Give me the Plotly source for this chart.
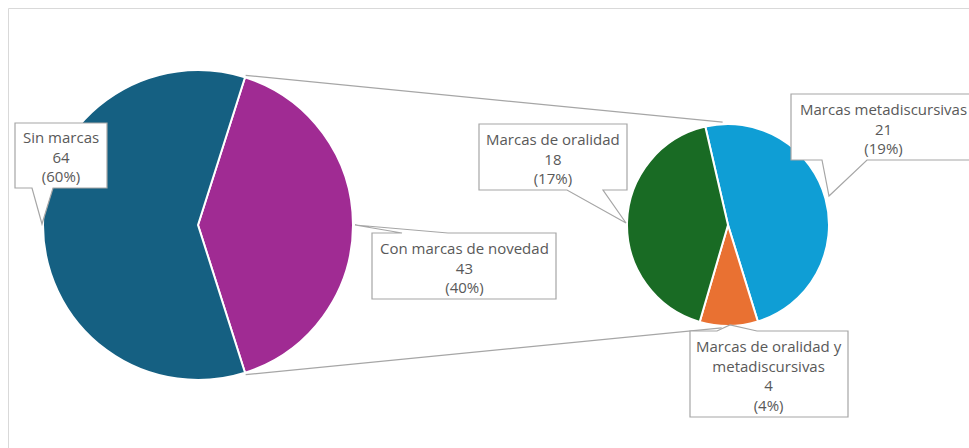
import math
import plotly.graph_objects as go

W, H = 969, 448

# ---- data ----
main_labels = ["Con marcas de novedad", "Sin marcas"]
main_values = [43, 64]
main_pct = ["40%", "60%"]
main_colors = ["#A02B93", "#156082"]

sub_labels = ["Marcas metadiscursivas", "Marcas de oralidad y<br>metadiscursivas", "Marcas de oralidad"]
sub_values = [21, 4, 18]
sub_pct = ["19%", "4%", "17%"]
sub_colors = ["#0F9ED5", "#E97132", "#196B24"]

def px(x):
    return x / W

def py(y):
    return 1 - y / H

# geometry (pixels)
MCX, MCY, MR = 198, 225, 155
SCX, SCY, SR = 728, 225, 101
half = 360 * main_values[0] / sum(main_values) / 2
main_rot = 90 - half          # centre the "other" slice on the right
sub_rot = -13

fig = go.Figure()
fig.add_trace(go.Pie(
    labels=main_labels, values=main_values, sort=False, direction="clockwise",
    rotation=main_rot, textinfo="none", hoverinfo="label+value+percent",
    marker=dict(colors=main_colors, line=dict(color="white", width=2)),
    domain=dict(x=[px(MCX - MR), px(MCX + MR)], y=[py(MCY + MR), py(MCY - MR)]),
    showlegend=False,
))
fig.add_trace(go.Pie(
    labels=sub_labels, values=sub_values, sort=False, direction="clockwise",
    rotation=sub_rot, textinfo="none", hoverinfo="label+value",
    marker=dict(colors=sub_colors, line=dict(color="white", width=2)),
    domain=dict(x=[px(SCX - SR), px(SCX + SR)], y=[py(SCY + SR), py(SCY - SR)]),
    showlegend=False,
))

shapes = []
# chart area border
shapes.append(dict(type="rect", xref="paper", yref="paper",
                   x0=px(8.5), y0=py(460), x1=px(980), y1=py(8.5),
                   line=dict(color="#D9D9D9", width=1), fillcolor="rgba(0,0,0,0)", layer="below"))

# connector lines between pies
def pt(cx, cy, r, deg):
    a = math.radians(deg)
    return cx + r * math.sin(a), cy - r * math.cos(a)

a_top = main_rot
a_bot = 180 - main_rot
for am, as_ in [(a_top, -3), (a_bot, 183.5)]:
    x0, y0 = pt(MCX, MCY, MR + 2, am)
    x1, y1 = pt(SCX, SCY, SR + 2, as_)
    shapes.append(dict(type="line", xref="paper", yref="paper",
                       x0=px(x0), y0=py(y0), x1=px(x1), y1=py(y1),
                       line=dict(color="#A6A6A6", width=1.2)))

# callouts: box (l, t, r, b), pointer edge, base x range, tip
def callout(l, t, r, b, edge, b1, b2, tip):
    if edge == "bottom":
        pts = [(l, t), (r, t), (r, b), (b2, b), tip, (b1, b), (l, b)]
    else:
        pts = [(l, t), (b1, t), tip, (b2, t), (r, t), (r, b), (l, b)]
    path = "M " + " L ".join(f"{px(x):.5f},{py(y):.5f}" for x, y in pts) + " Z"
    return dict(type="path", xref="paper", yref="paper", path=path,
                fillcolor="white", line=dict(color="#A6A6A6", width=1.2))

boxes = [
    (f"{main_labels[1]}<br>{main_values[1]}<br>({main_pct[1]})", (15, 123, 107, 188), "bottom", 32, 53, (42, 224)),
    (f"{main_labels[0]}<br>{main_values[0]}<br>({main_pct[0]})", (372, 233, 556, 299), "top", 402, 448, (355, 225)),
    (f"{sub_labels[2]}<br>{sub_values[2]}<br>({sub_pct[2]})", (479, 124, 627, 190), "bottom", 567, 603, (626, 223)),
    (f"{sub_labels[0]}<br>{sub_values[0]}<br>({sub_pct[0]})", (791, 94, 975, 160), "bottom", 822, 867, (829, 196)),
    (f"{sub_labels[1]}<br>{sub_values[1]}<br>({sub_pct[1]})", (690, 331, 848, 417), "top", 717, 757, (730, 325)),
]
centers_x = [61, 464, 553, 883, 769]

annotations = []
for (text, (l, t, r, b), edge, b1, b2, tip), cx in zip(boxes, centers_x):
    shapes.append(callout(l, t, r, b, edge, b1, b2, tip))
    annotations.append(dict(x=px(cx), y=py((t + b) / 2 + 1), xref="paper", yref="paper",
                            text=text, showarrow=False, xanchor="center", yanchor="middle",
                            align="center", font=dict(family="Open Sans", size=15, color="#595959")))

fig.update_layout(
    width=W, height=H, margin=dict(l=0, r=0, t=0, b=0),
    paper_bgcolor="white", plot_bgcolor="white",
    shapes=shapes, annotations=annotations,
)
fig.write_html("out.html", config={"displayModeBar": False},
               post_script="document.body.style.margin='0';document.body.style.overflow='hidden';")
